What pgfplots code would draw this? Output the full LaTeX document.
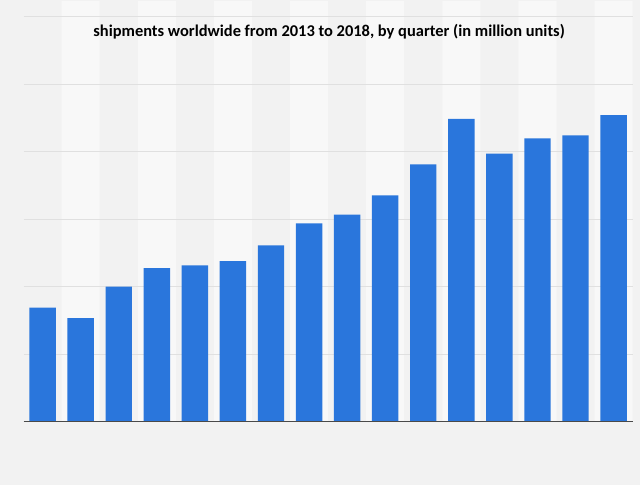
\documentclass[border=0pt]{standalone}
\usepackage{pgfplots}
\pgfplotsset{compat=1.18}
\usepackage{fontspec}
\setmainfont{Carlito}
\definecolor{pagebg}{HTML}{F2F2F2}
\definecolor{bandbg}{HTML}{F8F8F8}
\definecolor{barblue}{HTML}{2A76DC}
\definecolor{gridc}{HTML}{E0E0E0}
\definecolor{axisc}{HTML}{4A4A4A}
\begin{document}
\pagecolor{pagebg}
\begin{tikzpicture}
\path (0,0) rectangle (640bp,487bp);
\begin{axis}[
  at={(21.4bp,64bp)}, anchor=south west,
  scale only axis, width=611.2bp, height=406bp,
  set layers, clip=false,
  xmin=-0.5, xmax=15.5, ymin=0, ymax=60,
  axis line style={draw=none},
  xtick=\empty, ytick={10,20,30,40,50,60}, yticklabel=\empty,
  major tick length=0pt,
  ymajorgrids, grid style={gridc, line width=1.1bp},
]
\addplot[ybar, bar width=38.2bp, bar shift=0pt, fill=bandbg, draw=none, on layer=axis background] coordinates {
(1,62.4) (3,62.4) (5,62.4) (7,62.4) (9,62.4) (11,62.4) (13,62.4) (15,62.4)
};
\addplot[ybar, bar width=26.5bp, bar shift=0pt, fill=barblue, draw=none] coordinates {
(0,16.88) (1,15.32) (2,19.99) (3,22.75) (4,23.15) (5,23.78) (6,26.14) (7,29.39)
(8,30.68) (9,33.53) (10,38.15) (11,44.90) (12,39.73) (13,41.99) (14,42.44) (15,45.45)
};
\draw[axisc, line width=1.2bp] (rel axis cs:0,0) -- (rel axis cs:1,0);
\end{axis}
\node[font=\fontsize{16.5bp}{19bp}\selectfont\bfseries, text=black] at (328bp,455bp)
  {shipments worldwide from 2013 to 2018, by quarter (in million units)};
\end{tikzpicture}
\end{document}
